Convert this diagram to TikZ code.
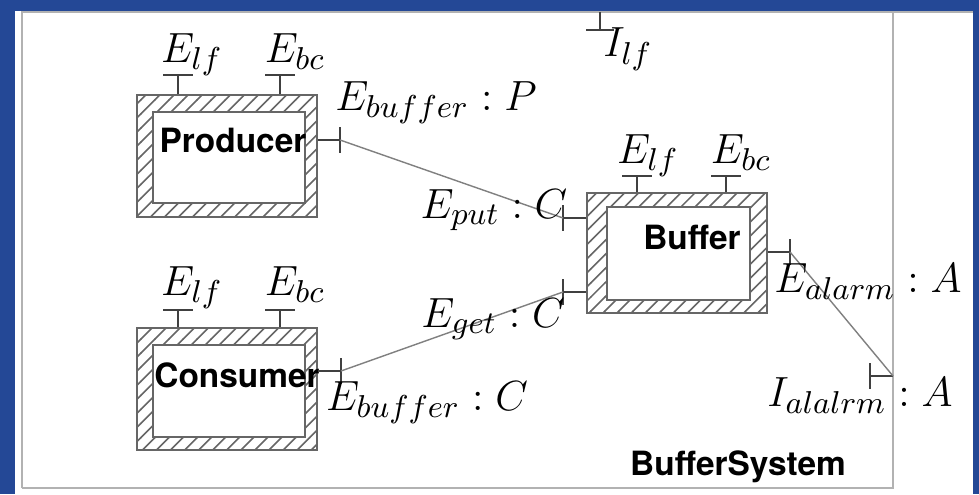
\documentclass[tikz,border=0pt]{standalone}
\usepackage{fontspec}
\setsansfont{TeX Gyre Heros}
\usetikzlibrary{positioning}
\usetikzlibrary{calc}
\usetikzlibrary{patterns}
\definecolor{slideblue}{RGB}{36,72,150}
\pgfdeclarepatternformonly{sparse hatch}{\pgfqpoint{-1pt}{-1pt}}{\pgfqpoint{5pt}{5pt}}{\pgfqpoint{4pt}{4pt}}{
    \pgfsetlinewidth{0.45pt}
    \pgfpathmoveto{\pgfqpoint{0pt}{0pt}}
    \pgfpathlineto{\pgfqpoint{4.1pt}{4.1pt}}
    \pgfusepath{stroke}}

\begin{document}
\begin{tikzpicture}[x=0.01cm, y=-0.01cm,
    hatch box/.style={
        draw=gray!80!black, thin,
        pattern=sparse hatch, pattern color=gray!80!black,
        inner sep=0pt
    },
    inner box/.style={draw=gray!80!black, thin, fill=white, inner sep=0pt},
    comp name/.style={font=\sffamily\bfseries\fontsize{9.5}{11}\selectfont},
    port/.style={black!75, semithick},
    wire/.style={gray, thin},
    lbl/.style={inner sep=0pt, anchor=base, font=\fontsize{12.5}{15}\selectfont}
]
\useasboundingbox (0,0) rectangle (979,494);
% slide and frame
\fill[slideblue] (0,0) rectangle (979,494);
\fill[white] (15,11) rectangle (973,494);
\draw[gray!60, semithick] (22,488) -- (22,12) -- (973,12);
\draw[gray!60, semithick] (893,12) -- (893,488) -- (22,488);

% components
\node[hatch box, minimum width=1.8cm, minimum height=1.22cm] (prod) at (227,156) {};
\node[inner box, minimum width=1.52cm, minimum height=0.91cm] (prodin) at (229,157.5) {};
\node[comp name] (prodname) at (233,140) {Producer};

\node[hatch box, minimum width=1.8cm, minimum height=1.22cm] (cons) at (227,389) {};
\node[inner box, minimum width=1.52cm, minimum height=0.92cm] (consin) at (229,391) {};
\node[comp name] (consname) at (237,375) {Consumer};

\node[hatch box, minimum width=1.8cm, minimum height=1.2cm] (buf) at (677,253) {};
\node[inner box, minimum width=1.43cm, minimum height=0.93cm] (bufin) at (678.5,253.5) {};
\node[comp name] (bufname) at (692,237) {Buffer};

\node[comp name] (sysname) at (738,467) {BufferSystem};

% top ports
\coordinate (plf) at (178,75);
\coordinate (pbc) at (280,75);
\coordinate (clf) at (178,310);
\coordinate (cbc) at (280,310);
\coordinate (blf) at (637,176);
\coordinate (bbc) at (726,176);
\foreach \p/\b in {plf/prod, pbc/prod, clf/cons, cbc/cons, blf/buf, bbc/buf} {
    \draw[port] (\b.north -| \p) -- (\p);
    \draw[port] ($(\p)+(-15,0)$) -- ($(\p)+(15,0)$);
}
\coordinate (ilf) at (600,30);
\draw[port] (600,12) -- (ilf);
\draw[port] ($(ilf)+(-14,0)$) -- ($(ilf)+(14,0)$);

% side ports
\coordinate (pbuf) at (340,140);
\coordinate (cbuf) at (341,371);
\coordinate (bput) at (563,218);
\coordinate (bget) at (563,292);
\coordinate (balarm) at (790,252);
\coordinate (ialarm) at (870,376);
\coordinate (iedge) at (893,376);

\draw[port] (prod.east |- pbuf) -- (pbuf);
\draw[port] (cons.east |- cbuf) -- (cbuf);
\draw[port] (buf.west |- bput) -- (bput);
\draw[port] (buf.west |- bget) -- (bget);
\draw[port] (buf.east |- balarm) -- (balarm);
\draw[port] (iedge) -- (ialarm);
\foreach \p in {pbuf, cbuf, bput, bget, balarm, ialarm} {
    \draw[port] ($(\p)+(0,-13)$) -- ($(\p)+(0,13)$);
}

% connectors
\draw[wire] (pbuf) -- (bput);
\draw[wire] (cbuf) -- (bget);
\draw[wire] (balarm) -- (iedge);

% labels
\node[lbl] (plfl) at (192,62) {$E_{lf}$};
\node[lbl] (pbcl) at (295,62) {$E_{bc}$};
\node[lbl] (clfl) at (192,295) {$E_{lf}$};
\node[lbl] (cbcl) at (295,295) {$E_{bc}$};
\node[lbl] (blfl) at (648,163) {$E_{lf}$};
\node[lbl] (bbcl) at (741,163) {$E_{bc}$};
\node[lbl] (ilfl) at (628,57) {$I_{lf}$};
\node[lbl] (pbufl) at (436,110) {$E_{buffer} : P$};
\node[lbl] (bputl) at (494,218) {$E_{put} : C$};
\node[lbl] (bgetl) at (493,327) {$E_{get} : C$};
\node[lbl] (cbufl) at (427,410) {$E_{buffer} : C$};
\node[lbl] (balarml) at (868,292) {$E_{alarm} : A$};
\node[lbl] (ialarml) at (860,406) {$I_{alalrm} : A$};
\end{tikzpicture}
\end{document}
